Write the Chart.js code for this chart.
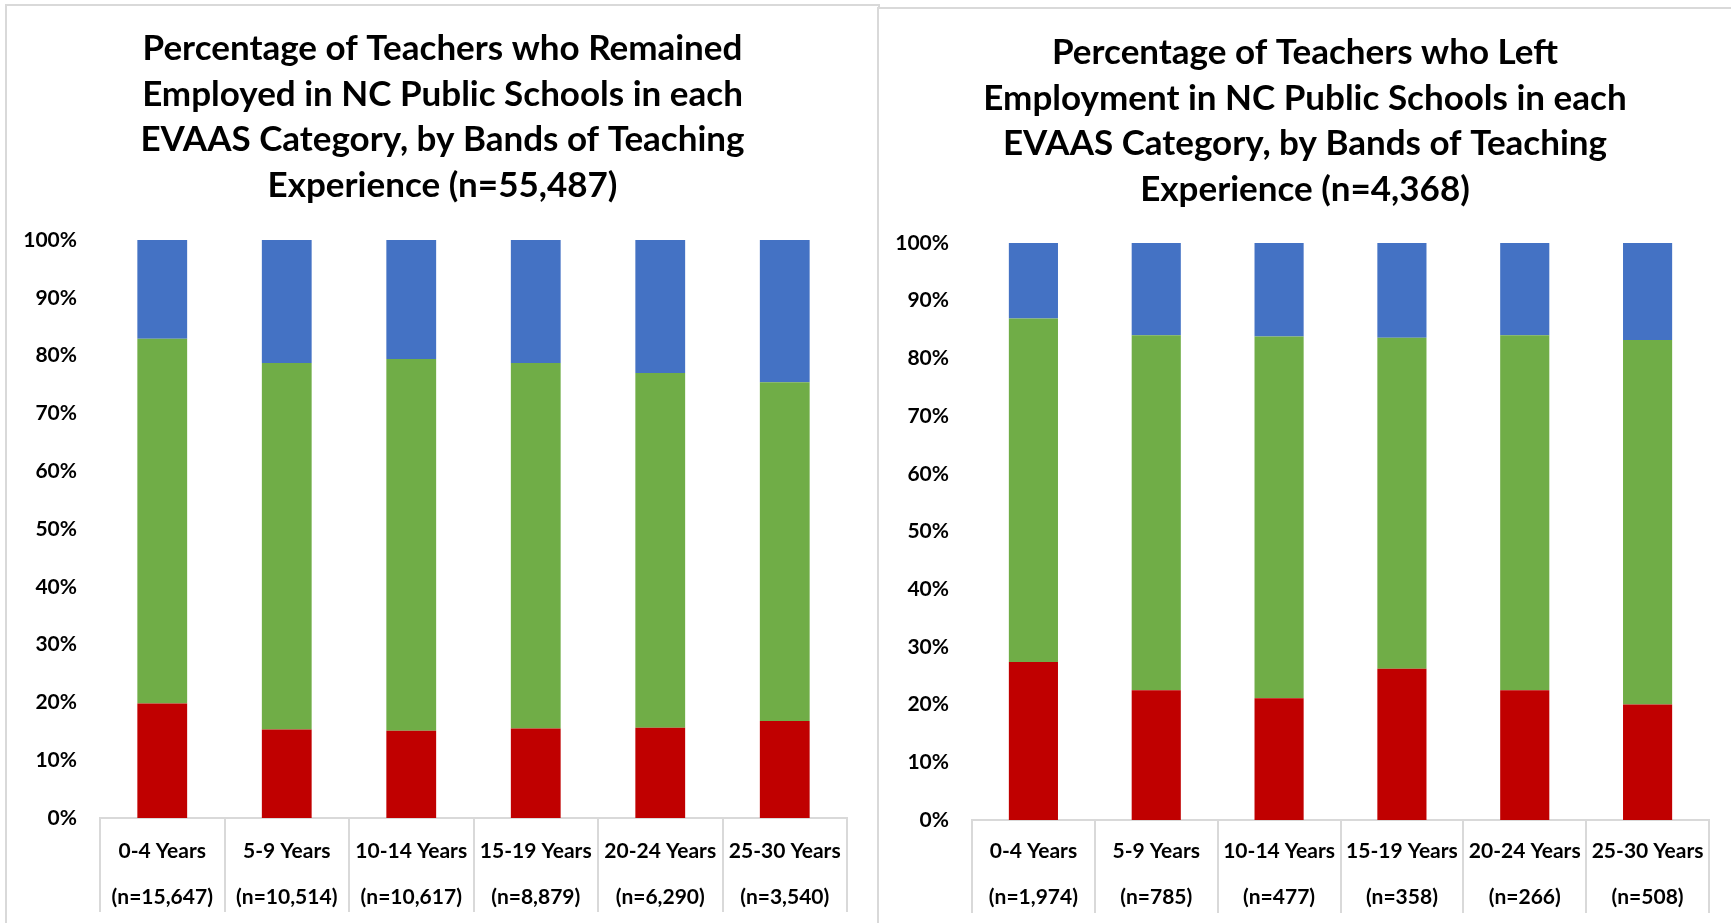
<!DOCTYPE html>
<html>
<head>
<meta charset="utf-8">
<script src="https://cdn.jsdelivr.net/npm/chart.js@4.4.1/dist/chart.umd.min.js"></script>
<style>
  html, body { margin: 0; padding: 0; background: #ffffff; overflow: hidden; }
  body { width: 1731px; height: 923px; position: relative; }
  .panel { position: absolute; border: 2px solid #d9d9d9; background: #fff; }
  #p1 { left: 5px; top: 4px; width: 871px; height: 930px; }
  #p2 { left: 877px; top: 7px; width: 870px; height: 930px; }
  canvas { display: block; }
</style>
</head>
<body>
<div class="panel" id="p1"><canvas id="c1" width="871" height="917"></canvas></div>
<div class="panel" id="p2"><canvas id="c2" width="852" height="914"></canvas></div>
<script>
const categories = ["0-4 Years", "5-9 Years", "10-14 Years", "15-19 Years", "20-24 Years", "25-30 Years"];
const remainedCounts = ["(n=15,647)", "(n=10,514)", "(n=10,617)", "(n=8,879)", "(n=6,290)", "(n=3,540)"];
const leftCounts = ["(n=1,974)", "(n=785)", "(n=477)", "(n=358)", "(n=266)", "(n=508)"];
const yTicks = [0, 10, 20, 30, 40, 50, 60, 70, 80, 90, 100];

const seriesNames = ["Does Not Meet Expected Growth", "Meets Expected Growth", "Exceeds Expected Growth"];
const remainedNotMet   = [19.8, 15.3, 15.1, 15.5, 15.6, 16.8];
const remainedMet      = [63.1, 63.4, 64.3, 63.2, 61.4, 58.6];
const remainedExceeds  = [17.1, 21.3, 20.6, 21.3, 23.0, 24.6];
const leftNotMet       = [27.4, 22.5, 21.1, 26.2, 22.5, 20.0];
const leftMet          = [59.5, 61.5, 62.7, 57.4, 61.5, 63.2];
const leftExceeds      = [13.1, 16.0, 16.2, 16.4, 16.0, 16.8];

const titleRemained = ["Percentage of Teachers who Remained", "Employed in NC Public Schools in each", "EVAAS Category, by Bands of Teaching", "Experience (n=55,487)"];
const titleLeft = ["Percentage of Teachers who Left", "Employment in NC Public Schools in each", "EVAAS Category, by Bands of Teaching", "Experience (n=4,368)"];

const colors = ["#C00000", "#70AD47", "#4472C4"];
const FONT = "Lato, 'Open Sans', sans-serif";

function makeChart(id, cfg) {
  const labels = categories.map((c, i) => [c, cfg.counts[i]]);
  const vals = [cfg.notMet, cfg.met, cfg.exceeds];
  return new Chart(document.getElementById(id), {
    type: 'bar',
    data: {
      labels: labels,
      datasets: vals.map((v, i) => ({
        label: seriesNames[i],
        data: v,
        backgroundColor: colors[i],
        borderWidth: 0,
        barPercentage: 0.4,
        categoryPercentage: 1.0
      }))
    },
    options: {
      responsive: false,
      animation: false,
      layout: { padding: 0 },
      plugins: {
        legend: { display: false },
        tooltip: { enabled: false },
        title: {
          display: true,
          text: cfg.title,
          color: '#000',
          font: { family: FONT, size: 35, weight: 'bold', lineHeight: 1.3 },
          padding: { top: cfg.titleTop, bottom: cfg.titleBottom }
        }
      },
      scales: {
        x: {
          stacked: true,
          grid: {
            display: true,
            drawOnChartArea: false,
            drawTicks: true,
            tickLength: cfg.tickLen,
            color: '#d9d9d9',
            lineWidth: 2,
            offset: true
          },
          border: { display: true, color: '#d9d9d9', width: 2 },
          ticks: {
            color: '#000',
            font: { family: FONT, size: 21, weight: 'bold', lineHeight: 2.17 },
            padding: cfg.labelPad,
            maxRotation: 0,
            autoSkip: false
          },
          afterFit: (s) => { s.height = cfg.xHeight; }
        },
        y: {
          stacked: true,
          min: 0,
          max: 100,
          afterBuildTicks: (s) => { s.ticks = yTicks.map(v => ({ value: v })); },
          grid: { display: false, drawTicks: false },
          border: { display: false },
          ticks: {
            color: '#000',
            font: { family: FONT, size: 21, weight: 'bold' },
            padding: 23,
            callback: (v) => v + '%'
          },
          afterFit: (s) => { s.width = cfg.yWidth; }
        },
        gap: {
          type: 'linear',
          position: 'right',
          display: true,
          grid: { display: false, drawTicks: false },
          border: { display: false },
          ticks: { display: false },
          afterFit: (s) => { s.width = cfg.rightGap; }
        }
      }
    }
  });
}

makeChart('c1', {
  counts: remainedCounts, notMet: remainedNotMet, met: remainedMet, exceeds: remainedExceeds,
  title: titleRemained, yWidth: 93, rightGap: 31,
  titleTop: 20, titleBottom: 32, tickLen: 94, labelPad: -83.5, xHeight: 105
});
makeChart('c2', {
  counts: leftCounts, notMet: leftNotMet, met: leftMet, exceeds: leftExceeds,
  title: titleLeft, yWidth: 93, rightGap: 22,
  titleTop: 21, titleBottom: 31, tickLen: 93, labelPad: -84.3, xHeight: 103
});
</script>
</body>
</html>
